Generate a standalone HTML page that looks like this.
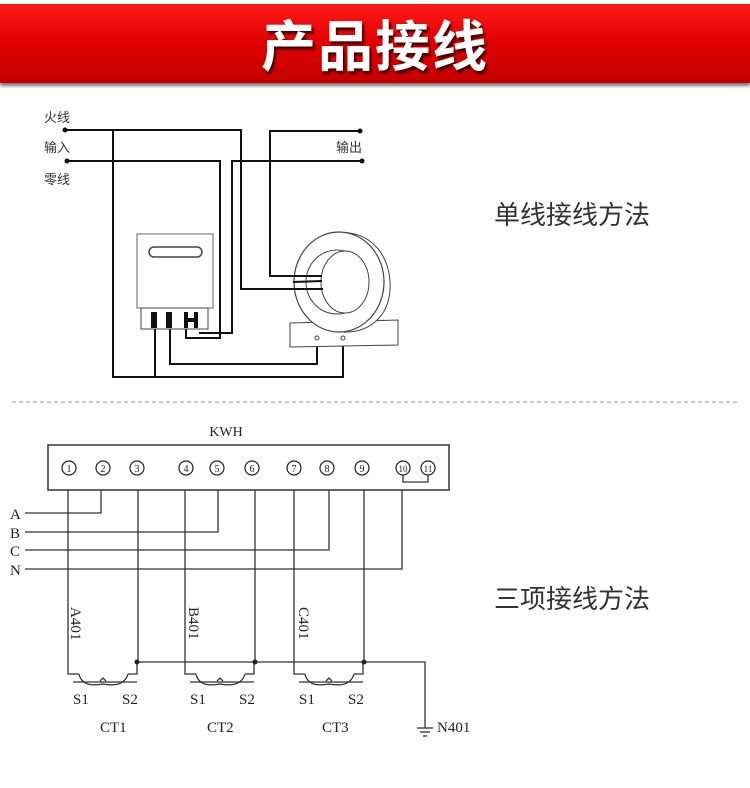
<!DOCTYPE html>
<html><head><meta charset="utf-8"><style>
html,body{margin:0;padding:0;background:#fff;width:750px;height:788px;overflow:hidden}
.hdr{position:absolute;left:0;top:4px;width:750px;height:79px;background:linear-gradient(#ff1a1a,#e00000 50%,#c40000);box-shadow:0 3px 3px #777}
.hdr span{position:absolute;left:0;width:750px;top:-2px;text-align:center;font:bold 55px "Noto Sans CJK SC",sans-serif;color:#fff;text-shadow:2px 3px 2px #400;letter-spacing:2px}
svg{position:absolute;left:0;top:0}
</style></head><body>
<div class="hdr"><span>产品接线</span></div>
<svg width="750" height="788" viewBox="0 0 750 788">
<g font-family="Noto Sans CJK SC, sans-serif" font-size="13" fill="#333">
<text x="44" y="122">火线</text><text x="44" y="152">输入</text><text x="44" y="184">零线</text>
<text x="336" y="152">输出</text>
</g>
<g font-family="Noto Sans CJK SC, sans-serif" font-size="26" fill="#333">
<text x="494" y="224">单线接线方法</text>
<text x="494" y="608">三项接线方法</text>
</g>
<g stroke="#111" stroke-width="2" fill="none">
<polyline points="65,130 241,130 241,289 323,289"/>
<polyline points="67,161 220,161 220,338 186,338 186,325"/>
<polyline points="113,130 113,377 343,377 343,340"/>
<polyline points="360,131 270,131 270,276 322,276"/>
<polyline points="362,161 232,161 232,333 199,333"/>
<polyline points="155,325 155,377"/>
<polyline points="170,325 170,364 317,364 317,340"/>
</g>
<g fill="#111"><circle cx="65" cy="130" r="2.5"/><circle cx="67" cy="161" r="2.5"/><circle cx="360" cy="131" r="2.5"/><circle cx="362" cy="161" r="2.5"/></g>
<rect x="137" y="234" width="76" height="74" fill="#fff" stroke="#666"/>
<rect x="149" y="247" width="53" height="10" rx="5" fill="#fff" stroke="#444" stroke-width="1.5"/>
<rect x="141" y="308" width="67" height="21" fill="#fff" stroke="#444"/>
<rect x="151" y="312" width="6" height="16" fill="#111"/><rect x="166" y="312" width="6" height="16" fill="#111"/>
<path d="M184 312h4v6h6v-6h4v16h-4v-6h-6v6h-4z" fill="#111"/>
<path d="M290 323 L398 320 L398 345 L290 347 Z" fill="#fff" stroke="#444"/>
<path d="M334 233 C372 228 392 258 390 290 C388 318 368 333 343 332" fill="#fff" stroke="#444"/>
<ellipse cx="339" cy="282" rx="45" ry="50" fill="#fff" stroke="#444" stroke-width="1.2"/>
<ellipse cx="337" cy="282" rx="31" ry="32" fill="#fff" stroke="#444"/>
<ellipse cx="345" cy="282" rx="24" ry="31" fill="#fff" stroke="#444"/>
<g stroke="#111" stroke-width="2"><line x1="293" y1="282" x2="322" y2="281"/><line x1="293" y1="289" x2="323" y2="289"/><line x1="292" y1="276" x2="322" y2="276"/></g>
<circle cx="317" cy="338" r="2" fill="#fff" stroke="#444"/><circle cx="343" cy="338" r="2" fill="#fff" stroke="#444"/>
<line x1="12" y1="402" x2="738" y2="402" stroke="#999" stroke-dasharray="4,3"/>
<g font-family="Liberation Serif, serif" fill="#222">
<text x="226" y="436" font-size="14" text-anchor="middle">KWH</text>
<g font-size="15"><text x="10" y="519">A</text><text x="10" y="538">B</text><text x="10" y="556">C</text><text x="10" y="575">N</text></g>
</g>
<rect x="48" y="445" width="401" height="45" fill="#fff" stroke="#333" stroke-width="1.5"/>
<g font-family="Liberation Serif, serif" font-size="10" text-anchor="middle" fill="#222" stroke="#222">
<g fill="#fff" stroke-width="1.2">
<circle cx="69" cy="468" r="7"/><circle cx="103" cy="468" r="7"/><circle cx="137" cy="468" r="7"/><circle cx="186" cy="468" r="7"/><circle cx="217" cy="468" r="7"/><circle cx="252" cy="468" r="7"/><circle cx="294" cy="468" r="7"/><circle cx="327" cy="468" r="7"/><circle cx="362" cy="468" r="7"/><circle cx="403" cy="468" r="7"/><circle cx="428" cy="468" r="7"/></g>
<g stroke="none"><text x="69" y="472">1</text><text x="103" y="472">2</text><text x="137" y="472">3</text><text x="186" y="472">4</text><text x="217" y="472">5</text><text x="252" y="472">6</text><text x="294" y="472">7</text><text x="327" y="472">8</text><text x="362" y="472">9</text><text x="403" y="472" font-size="9">10</text><text x="428" y="472" font-size="9">11</text></g>
</g>
<g stroke="#333" stroke-width="1.3" fill="none">
<polyline points="403,475 403,482 428,482 428,475"/>
<polyline points="101,490 101,513 25,513"/>
<polyline points="218,490 218,532 25,532"/>
<polyline points="329,490 329,550 25,550"/>
<polyline points="402,490 402,569 25,569"/>
<line x1="138" y1="490" x2="138" y2="662"/>
<line x1="255" y1="490" x2="255" y2="662"/>
<line x1="364" y1="490" x2="364" y2="662"/>
<polyline points="137,662 425,662 425,728"/>
<line x1="417" y1="728" x2="433" y2="728"/><line x1="420" y1="732" x2="430" y2="732"/><line x1="423" y1="736" x2="427" y2="736"/>
</g>
<g id="ct" stroke="#333" stroke-width="1.3" fill="none">
<polyline points="68,490 68,674 79,674"/>
<polyline points="137,662 137,674 128,674"/>
<line x1="73" y1="682" x2="137" y2="682"/>
<path d="M79 674 Q82 688 103 684 Q124 688 128 674"/>
<path d="M100 681 L103 678 L106 681"/>
</g>
<use href="#ct" x="117"/>
<use href="#ct" x="226"/>
<g fill="#222"><circle cx="137" cy="662" r="2.5"/><circle cx="255" cy="662" r="2.5"/><circle cx="364" cy="662" r="2.5"/></g>
<g font-family="Liberation Serif, serif" font-size="15" fill="#222">
<text transform="translate(71,607) rotate(90)">A401</text>
<text transform="translate(189,607) rotate(90)">B401</text>
<text transform="translate(299,607) rotate(90)">C401</text>
<text x="73" y="704">S1</text><text x="122" y="704">S2</text>
<text x="190" y="704">S1</text><text x="239" y="704">S2</text>
<text x="299" y="704">S1</text><text x="348" y="704">S2</text>
<text x="100" y="732">CT1</text><text x="207" y="732">CT2</text><text x="322" y="732">CT3</text>
<text x="437" y="732">N401</text>
</g>
</svg>
</body></html>
